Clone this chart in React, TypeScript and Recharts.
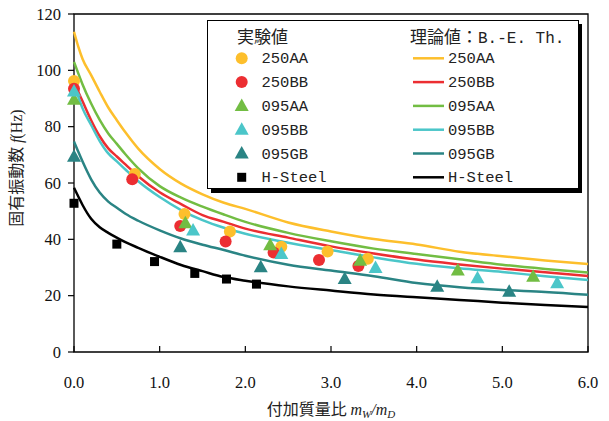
import { ScatterChart, Scatter, XAxis, YAxis, ReferenceArea } from 'recharts'

// experimental points (mass ratio, frequency Hz)
const exp250AAx = [0, 0.71, 1.29, 1.82, 2.42, 2.96, 3.43]
const exp250AAy = [96.2, 63.2, 49.0, 42.8, 37.4, 35.7, 33.1]
const exp250BBx = [0, 0.68, 1.24, 1.77, 2.33, 2.86, 3.32]
const exp250BBy = [93.5, 61.3, 44.7, 39.2, 35.3, 32.7, 30.5]
const exp095AAx = [0, 1.3, 2.29, 3.34, 4.48, 5.36]
const exp095AAy = [89.6, 45.7, 37.9, 32.4, 28.9, 26.7]
const exp095BBx = [0, 1.39, 2.42, 3.52, 4.71, 5.64]
const exp095BBy = [92.5, 43.1, 34.8, 29.8, 26.2, 24.4]
const exp095GBx = [0, 1.24, 2.18, 3.16, 4.24, 5.08]
const exp095GBy = [69.3, 37.2, 30.1, 25.9, 23.2, 21.4]
const expHx = [0, 0.5, 0.94, 1.41, 1.78, 2.13]
const expHy = [52.8, 38.3, 32.1, 27.9, 25.9, 24.1]

// theory curves (B.-E. theory)
const curveX = [0, 0.05, 0.1, 0.2, 0.3, 0.4, 0.5, 0.6, 0.75, 1, 1.25, 1.5, 1.75, 2, 2.5, 3, 3.5, 4, 4.5, 5, 5.5, 6]
const th250AA = [113.7, 108.4, 104, 98.3, 92.4, 86.8, 82.3, 78, 72.2, 65, 59.8, 56, 53, 50.8, 46, 42.8, 40.1, 38.2, 35.6, 34, 32.5, 31.2]
const th250BB = [97, 92.4, 89, 82.3, 76.6, 72.3, 69.4, 66.6, 62.4, 56.7, 52.5, 48.6, 46.2, 43.8, 40.6, 37.5, 35, 32.8, 31.1, 29.6, 28.3, 27]
const th095AA = [103, 98.9, 95, 88.2, 82.4, 77.6, 73.9, 70.2, 65.2, 58.9, 54.8, 51.6, 48.8, 46.2, 42.3, 39.3, 36.7, 34.8, 32.9, 31, 29.5, 28.2]
const th095BB = [95, 90.6, 86.5, 80.6, 74.9, 70.5, 67.7, 64.8, 60.6, 55, 50.4, 46.8, 44.1, 42, 38.8, 36.2, 33.6, 31.3, 29.7, 28.4, 26.9, 25.6]
const th095GB = [74.7, 71.1, 67.6, 61.3, 56.6, 53.4, 51.2, 49.1, 46.6, 43.2, 40.3, 38.1, 36.2, 34.2, 31, 28.9, 26.9, 24.5, 23, 22, 21.3, 20.3]
const thH = [58.3, 55.2, 52.2, 47.3, 44.3, 42.3, 40.6, 39, 37, 33.8, 30.9, 28.7, 26.6, 25.3, 23.3, 21.8, 20.4, 19.4, 18.5, 17.5, 16.7, 16]

const xTicks = [0, 1, 2, 3, 4, 5, 6]
const yTicks = [0, 20, 40, 60, 80, 100, 120]

const names = ['250AA', '250BB', '095AA', '095BB', '095GB', 'H-Steel']
const colors = ['#FDBF2C', '#EC2E32', '#72BD43', '#4BC6C9', '#2A8484', '#000000']
const markers = ['circle', 'circle', 'tri', 'tri', 'tri', 'square']

const toPts = (xs: number[], ys: number[]) => xs.map((x, i) => ({ x, y: ys[i] }))

const expSets = [
  toPts(exp250AAx, exp250AAy), toPts(exp250BBx, exp250BBy), toPts(exp095AAx, exp095AAy),
  toPts(exp095BBx, exp095BBy), toPts(exp095GBx, exp095GBy), toPts(expHx, expHy),
]
const thSets = [th250AA, th250BB, th095AA, th095BB, th095GB, thH].map((ys) => toPts(curveX, ys))

const SERIF = '"Liberation Serif", "Times New Roman", serif'
const CJK = '"Noto Sans CJK JP", sans-serif'
const MONO = '"Liberation Mono", monospace'

function Marker({ kind, cx, cy, color }: { kind: string; cx: number; cy: number; color: string }) {
  if (kind === 'circle') return <circle cx={cx} cy={cy} r={6} fill={color} />
  if (kind === 'tri')
    return <polygon points={`${cx},${cy - 7.5} ${cx + 7},${cy + 5} ${cx - 7},${cy + 5}`} fill={color} />
  return <rect x={cx - 4.5} y={cy - 4.5} width={9} height={9} fill={color} />
}

const XTick = ({ x, y, payload }: any) => (
  <g>
    <line x1={x} x2={x} y1={y} y2={y - 6} stroke="#000" strokeWidth={1.2} />
    <text x={x} y={y + 35.5} textAnchor="middle" fontFamily={SERIF} fontSize={16.5} fill="#111">
      {Number(payload.value).toFixed(1)}
    </text>
  </g>
)

const YTick = ({ x, y, payload }: any) => (
  <g>
    <line x1={x} x2={x - 6} y1={y} y2={y} stroke="#000" strokeWidth={1.2} />
    <text x={x - 13} y={y + 5.5} textAnchor="end" fontFamily={SERIF} fontSize={16.5} fill="#111">
      {payload.value}
    </text>
  </g>
)

function Overlay() {
  const rowY = (i: number) => 58.3 + i * 23.8
  return (
    <svg width={609} height={421} style={{ position: 'absolute', left: 0, top: 0, pointerEvents: 'none' }}>
      {/* axis titles */}
      <text transform="translate(22,168) rotate(-90)" textAnchor="middle" fontSize={16} fill="#222">
        <tspan fontFamily={CJK}>固有振動数 </tspan>
        <tspan fontFamily={SERIF} fontStyle="italic">f</tspan>
        <tspan fontFamily={SERIF}>(Hz)</tspan>
      </text>
      <text x={331} y={415} textAnchor="middle" fontSize={16} fill="#222">
        <tspan fontFamily={CJK}>付加質量比 </tspan>
        <tspan fontFamily={SERIF} fontStyle="italic">m</tspan>
        <tspan fontFamily={SERIF} fontStyle="italic" fontSize={11} dy={3}>W</tspan>
        <tspan fontFamily={SERIF} fontStyle="italic" dy={-3}>/m</tspan>
        <tspan fontFamily={SERIF} fontStyle="italic" fontSize={11} dy={3}>D</tspan>
      </text>

      {/* legend box */}
      <rect x={211} y={24} width={371} height={169} fill="#000" />
      <rect x={207.5} y={20.5} width={371} height={168} fill="#fff" stroke="#000" strokeWidth={1} />
      <text x={237} y={43} fontFamily={CJK} fontSize={17} fill="#222">実験値</text>
      <text x={410} y={43} fontSize={17} fill="#222">
        <tspan fontFamily={CJK}>理論値：</tspan>
        <tspan fontFamily={MONO} fontSize={16}>B.-E. Th.</tspan>
      </text>
      {names.map((n, i) => (
        <g key={n}>
          <Marker kind={markers[i]} cx={241.7} cy={rowY(i)} color={colors[i]} />
          <text x={261.5} y={rowY(i) + 5} fontFamily={MONO} fontSize={15.5} fill="#222">{n}</text>
          <line x1={413} x2={444} y1={rowY(i)} y2={rowY(i)} stroke={colors[i]} strokeWidth={2.5} />
          <text x={448} y={rowY(i) + 5} fontFamily={MONO} fontSize={15.5} fill="#222">{n}</text>
        </g>
      ))}
    </svg>
  )
}

export default function App() {
  return (
    <div style={{ position: 'absolute', left: 0, top: 0, width: 609, height: 421, background: '#fff' }}>
      <ScatterChart width={609} height={421} margin={{ top: 14, right: 21, bottom: 0, left: 0 }}>
        <ReferenceArea x1={0} x2={6} y1={0} y2={120} fill="none" stroke="#000" strokeWidth={1.3} />
        <XAxis
          type="number" dataKey="x" domain={[0, 6]} ticks={xTicks} height={69}
          axisLine={false} tickLine={false} tickSize={0} tickMargin={0} tick={<XTick />}
        />
        <YAxis
          type="number" dataKey="y" domain={[0, 120]} ticks={yTicks} width={74}
          axisLine={false} tickLine={false} tickSize={0} tickMargin={0} tick={<YTick />}
        />
        {thSets.map((d, i) => (
          <Scatter
            key={'th' + names[i]} data={d} isAnimationActive={false} lineJointType="monotoneX"
            line={{ stroke: colors[i], strokeWidth: 2.5 }} shape={() => <g />}
          />
        ))}
        {expSets.map((d, i) => (
          <Scatter
            key={'exp' + names[i]} data={d} isAnimationActive={false}
            shape={(p: any) => <Marker kind={markers[i]} cx={p.cx} cy={p.cy} color={colors[i]} />}
          />
        ))}
      </ScatterChart>
      <Overlay />
    </div>
  )
}
